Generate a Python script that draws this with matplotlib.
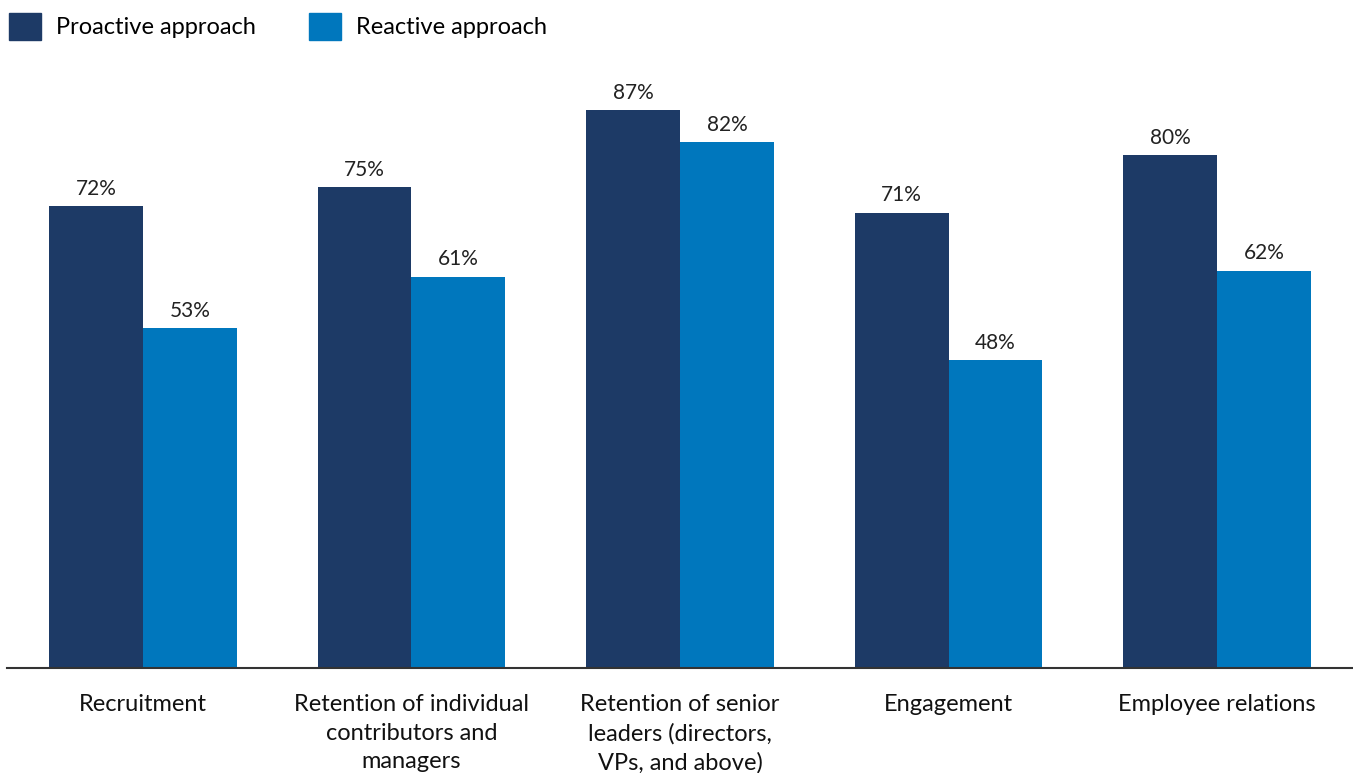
import matplotlib
matplotlib.use("Agg")
import matplotlib.pyplot as plt
from matplotlib.patches import Patch
import numpy as np

categories = ["Recruitment",
              "Retention of individual\ncontributors and\nmanagers",
              "Retention of senior\nleaders (directors,\nVPs, and above)",
              "Engagement",
              "Employee relations"]
proactive = [72, 75, 87, 71, 80]
reactive = [53, 61, 82, 48, 62]
series_names = ["Proactive approach", "Reactive approach"]
colors = ["#1d3a66", "#0077bd"]

plt.rcParams['font.family'] = ['Lato', 'DejaVu Sans']
W, H = 1353, 773
fig = plt.figure(figsize=(W / 100, H / 100), dpi=100)
ax = fig.add_axes([7 / W, (H - 668) / H, 1346 / W, 641 / H])

x = np.arange(len(categories))
bw = 0.35
b1 = ax.bar(x - bw / 2, proactive, bw, color=colors[0], label=series_names[0])
b2 = ax.bar(x + bw / 2, reactive, bw, color=colors[1], label=series_names[1])
for bars in (b1, b2):
    for r in bars:
        ax.annotate(f"{r.get_height():.0f}%", (r.get_x() + r.get_width() / 2, r.get_height()),
                    xytext=(0, 5.5), textcoords="offset points", ha="center", va="bottom",
                    fontsize=15, color="#222222")

ax.set_xlim(-0.5065, 4.5065)
ax.set_ylim(0, 100)
for s in ["top", "right", "left"]:
    ax.spines[s].set_visible(False)
ax.spines["bottom"].set_color("#333333")
ax.spines["bottom"].set_linewidth(1.5)
ax.set_yticks([])
ax.set_xticks(x)
ax.set_xticklabels(categories, fontsize=17, color="#111111", linespacing=1.42, va="top")
ax.tick_params(axis="x", length=0, pad=19)

handles = [Patch(color=c, label=n) for c, n in zip(colors, series_names)]
fig.legend(handles=handles, loc="upper left", bbox_to_anchor=(9 / W, 1 - 13 / H),
           ncol=2, frameon=False, fontsize=17, handlelength=1.36, handleheight=1.36,
           handletextpad=0.64, columnspacing=2.25, borderpad=0, borderaxespad=0)

fig.savefig("out.png", dpi=100)
